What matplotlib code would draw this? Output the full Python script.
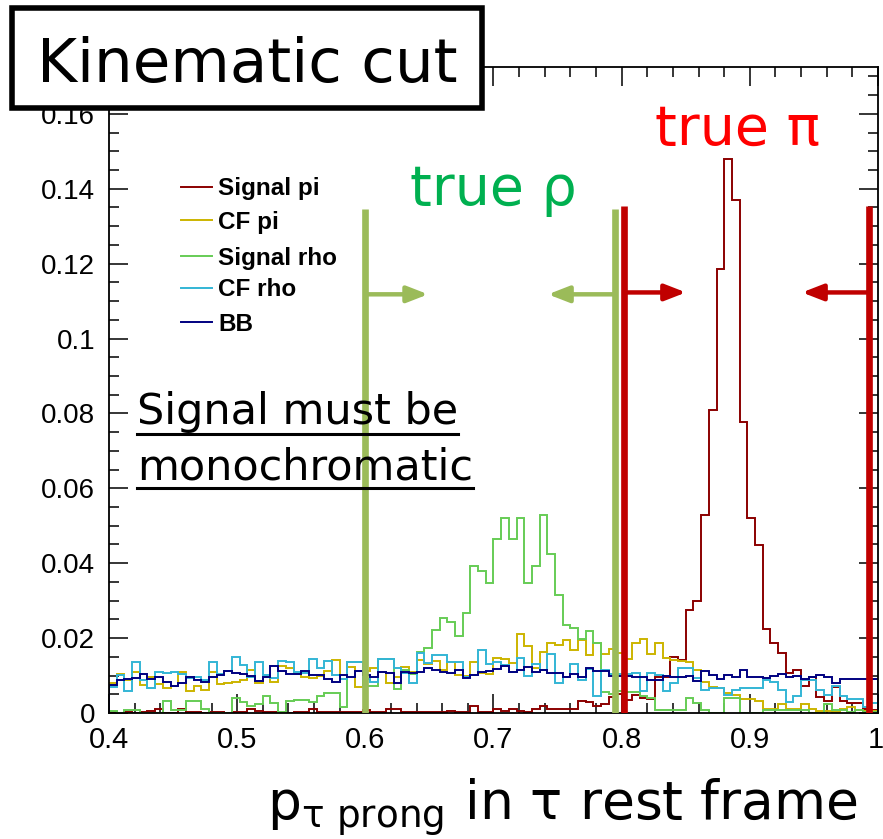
import numpy as np
import matplotlib
matplotlib.use('Agg')
import matplotlib.pyplot as plt
from matplotlib.ticker import MultipleLocator, FuncFormatter
from matplotlib.patches import Rectangle
from matplotlib.lines import Line2D
from matplotlib.transforms import ScaledTranslation

plt.rcParams['font.family'] = ['Liberation Sans', 'DejaVu Sans']
plt.rcParams['mathtext.fontset'] = 'dejavusans'
plt.rcParams['mathtext.default'] = 'regular'

# 100 bins from 0.4 to 1.0
edges = np.linspace(0.4, 1.0, 101)

sig_pi = [0.0003, 0.0000, 0.0003, 0.0000, 0.0003, 0.0005, 0.0012, 0.0000, 0.0000, 0.0012,
          0.0003, 0.0003, 0.0000, 0.0003, 0.0003, 0.0000, 0.0003, 0.0003, 0.0012, 0.0005,
          0.0003, 0.0003, 0.0003, 0.0000, 0.0003, 0.0003, 0.0010, 0.0003, 0.0003, 0.0003,
          0.0003, 0.0003, 0.0003, 0.0008, 0.0003, 0.0003, 0.0010, 0.0010, 0.0003, 0.0003,
          0.0003, 0.0003, 0.0003, 0.0003, 0.0006, 0.0003, 0.0003, 0.0019, 0.0004, 0.0004,
          0.0010, 0.0005, 0.0012, 0.0005, 0.0003, 0.0012, 0.0018, 0.0012, 0.0010, 0.0010,
          0.0010, 0.0032, 0.0030, 0.0018, 0.0025, 0.0043, 0.0050, 0.0035, 0.0047, 0.0040,
          0.0038, 0.0097, 0.0097, 0.0149, 0.0142, 0.0275, 0.0300, 0.0530, 0.0810, 0.1185,
          0.1480, 0.1370, 0.0776, 0.0520, 0.0448, 0.0224, 0.0186, 0.0161, 0.0106, 0.0115,
          0.0072, 0.0095, 0.0044, 0.0033, 0.0069, 0.0033, 0.0026, 0.0026, 0.0012, 0.0008]

cf_pi = [0.0081, 0.0104, 0.0088, 0.0110, 0.0075, 0.0097, 0.0078, 0.0066, 0.0072, 0.0110,
         0.0060, 0.0072, 0.0061, 0.0110, 0.0078, 0.0081, 0.0084, 0.0088, 0.0115, 0.0081,
         0.0095, 0.0084, 0.0126, 0.0121, 0.0104, 0.0095, 0.0093, 0.0099, 0.0112, 0.0142,
         0.0090, 0.0124, 0.0069, 0.0113, 0.0119, 0.0110, 0.0079, 0.0095, 0.0124, 0.0110,
         0.0142, 0.0130, 0.0138, 0.0115, 0.0135, 0.0102, 0.0099, 0.0137, 0.0106, 0.0104,
         0.0146, 0.0143, 0.0134, 0.0211, 0.0179, 0.0119, 0.0164, 0.0186, 0.0182, 0.0195,
         0.0168, 0.0195, 0.0155, 0.0188, 0.0158, 0.0170, 0.0160, 0.0143, 0.0188, 0.0197,
         0.0158, 0.0186, 0.0146, 0.0142, 0.0140, 0.0135, 0.0115, 0.0084, 0.0069, 0.0066,
         0.0053, 0.0048, 0.0037, 0.0037, 0.0033, 0.0012, 0.0011, 0.0024, 0.0010, 0.0010,
         0.0024, 0.0010, 0.0006, 0.0006, 0.0004, 0.0012, 0.0015, 0.0008, 0.0006, 0.0006]

sig_rho = [0.0006, 0.0001, 0.0008, 0.0008, 0.0001, 0.0001, 0.0001, 0.0032, 0.0008, 0.0008,
           0.0032, 0.0032, 0.0012, 0.0001, 0.0001, 0.0001, 0.0039, 0.0030, 0.0019, 0.0024,
           0.0046, 0.0026, 0.0004, 0.0032, 0.0035, 0.0035, 0.0030, 0.0046, 0.0054, 0.0054,
           0.0015, 0.0135, 0.0135, 0.0072, 0.0072, 0.0143, 0.0143, 0.0063, 0.0115, 0.0105,
           0.0164, 0.0173, 0.0222, 0.0253, 0.0244, 0.0206, 0.0268, 0.0393, 0.0380, 0.0347,
           0.0464, 0.0520, 0.0464, 0.0520, 0.0347, 0.0393, 0.0528, 0.0425, 0.0316, 0.0235,
           0.0228, 0.0197, 0.0220, 0.0186, 0.0057, 0.0050, 0.0060, 0.0057, 0.0057, 0.0046,
           0.0039, 0.0008, 0.0008, 0.0008, 0.0008, 0.0039, 0.0026, 0.0008, 0.0001, 0.0001,
           0.0039, 0.0039, 0.0001, 0.0001, 0.0001, 0.0008, 0.0008, 0.0008, 0.0008, 0.0008,
           0.0008, 0.0001, 0.0001, 0.0024, 0.0008, 0.0008, 0.0004, 0.0008, 0.0004, 0.0004]

cf_rho = [0.0069, 0.0102, 0.0059, 0.0135, 0.0088, 0.0068, 0.0110, 0.0106, 0.0110, 0.0104,
          0.0093, 0.0097, 0.0088, 0.0135, 0.0104, 0.0113, 0.0150, 0.0128, 0.0095, 0.0135,
          0.0102, 0.0093, 0.0139, 0.0135, 0.0110, 0.0106, 0.0144, 0.0119, 0.0139, 0.0102,
          0.0090, 0.0135, 0.0135, 0.0092, 0.0082, 0.0143, 0.0143, 0.0120, 0.0106, 0.0081,
          0.0161, 0.0133, 0.0155, 0.0155, 0.0135, 0.0135, 0.0097, 0.0102, 0.0168, 0.0130,
          0.0135, 0.0128, 0.0110, 0.0146, 0.0099, 0.0130, 0.0115, 0.0158, 0.0079, 0.0097,
          0.0131, 0.0088, 0.0117, 0.0046, 0.0115, 0.0104, 0.0104, 0.0104, 0.0106, 0.0060,
          0.0108, 0.0102, 0.0060, 0.0079, 0.0120, 0.0120, 0.0093, 0.0061, 0.0066, 0.0066,
          0.0048, 0.0061, 0.0066, 0.0066, 0.0066, 0.0088, 0.0084, 0.0061, 0.0030, 0.0045,
          0.0088, 0.0088, 0.0061, 0.0048, 0.0072, 0.0045, 0.0037, 0.0037, 0.0017, 0.0026]

bb = [0.0075, 0.0088, 0.0092, 0.0093, 0.0104, 0.0090, 0.0097, 0.0083, 0.0072, 0.0081,
      0.0095, 0.0088, 0.0084, 0.0097, 0.0102, 0.0113, 0.0106, 0.0104, 0.0098, 0.0086,
      0.0097, 0.0126, 0.0113, 0.0104, 0.0104, 0.0113, 0.0102, 0.0102, 0.0091, 0.0084,
      0.0102, 0.0097, 0.0113, 0.0102, 0.0095, 0.0110, 0.0106, 0.0079, 0.0110, 0.0106,
      0.0110, 0.0119, 0.0115, 0.0110, 0.0106, 0.0115, 0.0093, 0.0102, 0.0110, 0.0113,
      0.0117, 0.0126, 0.0110, 0.0115, 0.0124, 0.0110, 0.0115, 0.0106, 0.0108, 0.0097,
      0.0104, 0.0097, 0.0119, 0.0113, 0.0112, 0.0099, 0.0100, 0.0099, 0.0095, 0.0097,
      0.0088, 0.0088, 0.0099, 0.0097, 0.0097, 0.0099, 0.0086, 0.0112, 0.0102, 0.0091,
      0.0102, 0.0095, 0.0115, 0.0097, 0.0095, 0.0093, 0.0099, 0.0104, 0.0095, 0.0099,
      0.0090, 0.0095, 0.0102, 0.0095, 0.0079, 0.0091, 0.0090, 0.0090, 0.0090, 0.0090]

labels = ['Signal pi', 'CF pi', 'Signal rho', 'CF rho', 'BB']
colors = ['#8B0000', '#CCB400', '#66CC55', '#33B5D5', '#000080']
series = [sig_pi, cf_pi, sig_rho, cf_rho, bb]

xticks = [0.4, 0.5, 0.6, 0.7, 0.8, 0.9, 1.0]
xtick_labels = ['0.4', '0.5', '0.6', '0.7', '0.8', '0.9', '1']

# cut positions
rho_cuts = [0.6, 0.795]
pi_cuts = [0.802, 0.9926]
green = '#9BBB59'
red = '#C00000'

W, H = 883, 839
fig = plt.figure(figsize=(W / 100, H / 100), dpi=100)
ax = fig.add_axes([109 / W, 1 - 713 / H, 769 / W, 646 / H])

for vals, c in zip(series, colors):
    ax.stairs(vals, edges, color=c, lw=1.4, baseline=0, zorder=2)

ax.set_xlim(0.4, 1.0)
ax.set_ylim(0, 0.1725)

# cut lines and arrows
for x in rho_cuts:
    ax.plot([x, x], [0, 0.1345], color=green, lw=4.8, solid_capstyle='butt', zorder=4)
for x in pi_cuts:
    ax.plot([x, x], [0, 0.1353], color=red, lw=4.8, solid_capstyle='butt', zorder=4)

def arrow(x0, x1, y, c):
    ax.annotate('', xy=(x1, y), xytext=(x0, y),
                arrowprops=dict(arrowstyle='-|>,head_length=0.9,head_width=0.35',
                                lw=3.2, color=c, shrinkA=0, shrinkB=0,
                                mutation_scale=14), zorder=5)

arrow(rho_cuts[0], 0.649, 0.1118, green)
arrow(rho_cuts[1], 0.7425, 0.1118, green)
arrow(pi_cuts[0], 0.8502, 0.1123, red)
arrow(pi_cuts[1], 0.9407, 0.1123, red)

# axes style (ROOT-like)
ax.set_xticks(xticks)
ax.set_xticklabels(xtick_labels)
ax.xaxis.set_minor_locator(MultipleLocator(0.02))
ax.yaxis.set_major_locator(MultipleLocator(0.02))
ax.yaxis.set_minor_locator(MultipleLocator(0.005))
ax.yaxis.set_major_formatter(FuncFormatter(lambda v, p: '%g' % round(v, 4)))
ax.tick_params(which='both', direction='in', top=True, right=True, width=1.1)
ax.tick_params(which='major', length=14)
ax.tick_params(which='minor', length=7)
ax.tick_params(axis='y', labelsize=20, pad=10)
ax.tick_params(axis='x', labelsize=21, pad=9)
for s in ax.spines.values():
    s.set_linewidth(1.3)

# keep the "1" inside the picture
last = ax.get_xticklabels()[-1]
last.set_ha('right')
last.set_transform(last.get_transform() + ScaledTranslation(4 / 72, 0, fig.dpi_scale_trans))

# legend drawn by hand
leg_y = [187, 220, 256, 288, 322]
for lab, c, yc in zip(labels, colors, leg_y):
    ya = (713 - yc) / 646
    ax.plot([0.0936, 0.1339], [ya, ya], color=c, lw=1.4, transform=ax.transAxes)
    ax.text(0.1417, (713 - yc - 8.5) / 646, lab, transform=ax.transAxes,
            fontsize=17.5, fontweight='bold', va='baseline', ha='left')

# annotations
big = 'DejaVu Sans'
fig.add_artist(Rectangle((12 / W, 1 - 108 / H), 470 / W, 100 / H, transform=fig.transFigure,
                         fc='white', ec='black', lw=4, zorder=10))
fig.text(247 / W, 1 - 82 / H, 'Kinematic cut', ha='center', va='baseline',
         fontsize=44, family=big, zorder=11)
fig.text(655 / W, 1 - 145 / H, 'true π', ha='left', va='baseline',
         fontsize=40, family=big, color='#FF0000')
fig.text(410 / W, 1 - 205 / H, 'true ρ', ha='left', va='baseline',
         fontsize=40, family=big, color='#00B050')
t1 = fig.text(137 / W, 1 - 424 / H, 'Signal must be', ha='left', va='baseline',
              fontsize=31, family=big)
t2 = fig.text(137 / W, 1 - 479 / H, 'monochromatic', ha='left', va='baseline',
              fontsize=31, family=big)
fig.text(858 / W, 1 - 820 / H, r'p$_{\tau\ \mathrm{prong}}$ in τ rest frame',
         ha='right', va='baseline', fontsize=38.5, family=big)

# underline the two text lines
fig.canvas.draw()
for t, yline in ((t1, 434), (t2, 488)):
    ext = t.get_window_extent()
    fig.add_artist(Line2D([ext.x0 / W, ext.x1 / W], [1 - yline / H, 1 - yline / H],
                          transform=fig.transFigure, color='black', lw=2.2))

fig.savefig('out.png', dpi=100)
